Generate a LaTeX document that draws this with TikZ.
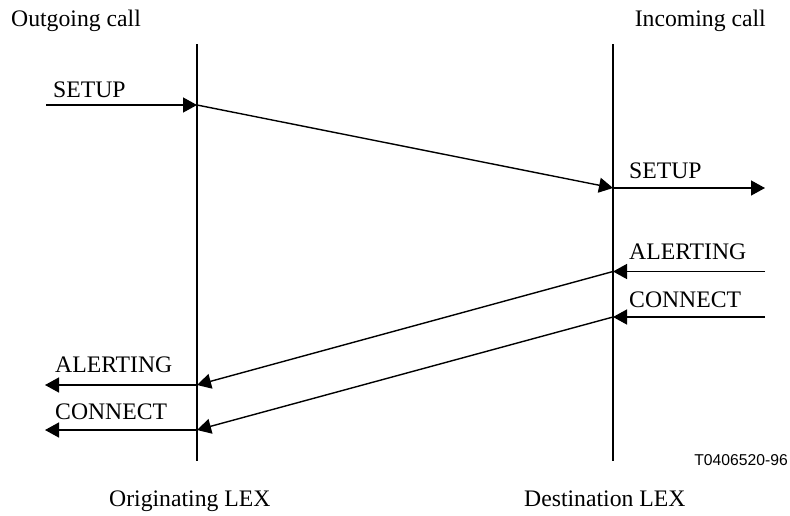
\documentclass[tikz,border=0pt]{standalone}
\usepackage{fontspec}
\setmainfont{Liberation Serif}
\newfontfamily\figsans{Liberation Sans}
\usetikzlibrary{arrows.meta}
\begin{document}
\begin{tikzpicture}[x=1pt,y=-1pt,
  lifeline/.style={line width=2.2pt},
  msg/.style={line width=1.4pt,-{Triangle[length=14pt,width=15pt]}},
  lbl/.style={font=\fontsize{23.7}{26}\selectfont,inner sep=0pt,anchor=base west},
  lble/.style={lbl,anchor=base east}]
\useasboundingbox (0,0) rectangle (790,515);

% exchange lifelines
\coordinate (oTop) at (197,44);
\coordinate (oBot) at (197,461);
\coordinate (dTop) at (613,44);
\coordinate (dBot) at (613,461);
\draw[lifeline] (oTop) -- (oBot);
\draw[lifeline] (dTop) -- (dBot);

% message end points
\coordinate (setupIn)   at (46,105);
\coordinate (setupO)    at (197,105);
\coordinate (setupD)    at (613,188);
\coordinate (setupOut)  at (765,188);
\coordinate (alertIn)   at (765,271.5);
\coordinate (alertD)    at (613,271.5);
\coordinate (alertO)    at (197,385);
\coordinate (alertOut)  at (45,385);
\coordinate (connIn)    at (765,317);
\coordinate (connD)     at (613,317);
\coordinate (connO)     at (197,430);
\coordinate (connOut)   at (45,430);

% SETUP
\draw[msg] (setupIn) -- (setupO);
\draw[msg] (setupO) -- (setupD);
\draw[msg] (setupD) -- (setupOut);
% ALERTING
\draw[msg] (alertIn) -- (alertD);
\draw[msg] (alertD) -- (alertO);
\draw[msg] (alertO) -- (alertOut);
% CONNECT
\draw[msg] (connIn) -- (connD);
\draw[msg] (connD) -- (connO);
\draw[msg] (connO) -- (connOut);

% labels
\node[lbl]  (tOut)  at (11,26)   {Outgoing call};
\node[lble] (tIn)   at (766,26)  {Incoming call};
\node[lbl]  (tS1)   at (53,97)   {SETUP};
\node[lbl]  (tS2)   at (629,178) {SETUP};
\node[lbl]  (tA2)   at (629,259) {ALERTING};
\node[lbl]  (tC2)   at (629,307) {CONNECT};
\node[lbl]  (tA1)   at (55,372)  {ALERTING};
\node[lbl]  (tC1)   at (55,419)  {CONNECT};
\node[lbl]  (tOrig) at (109,506) {Originating LEX};
\node[lbl]  (tDest) at (524,506) {Destination LEX};
\node[inner sep=0pt,anchor=base east,font=\figsans\fontsize{15.7}{18}\selectfont] (tRef) at (788,465) {T0406520-96};
\end{tikzpicture}
\end{document}
